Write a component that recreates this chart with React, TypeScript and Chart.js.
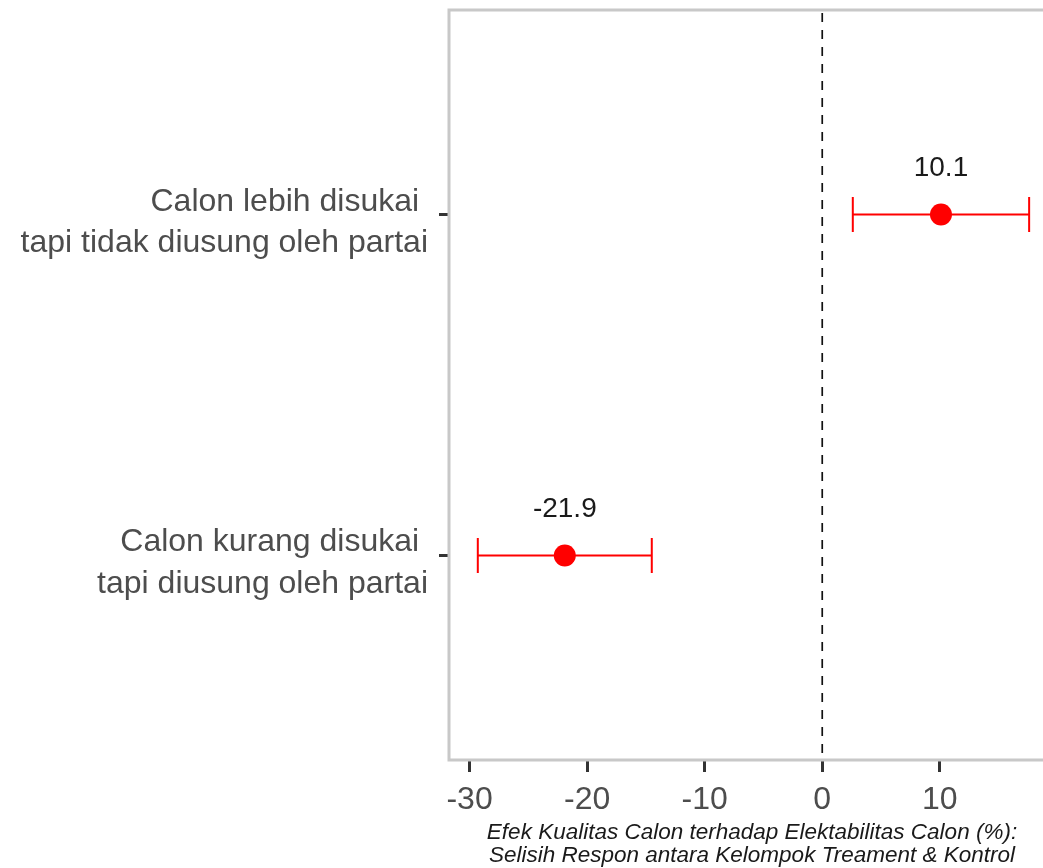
import React, { useEffect, useRef } from 'react';
import { Chart, registerables } from 'chart.js';

Chart.register(...registerables);

const categories: string[][] = [
  ['Calon lebih disukai ', 'tapi tidak diusung oleh partai'],
  ['Calon kurang disukai ', 'tapi diusung oleh partai'],
];
const categoryPositions = [2, 1];
const estimates = [10.1, -21.9];
const lowerCI = [2.6, -29.3];
const upperCI = [17.6, -14.5];
const estimateLabels = ['10.1', '-21.9'];
const xTickValues = [-30, -20, -10, 0, 10];
const xTitle = [
  'Efek Kualitas Calon terhadap Elektabilitas Calon (%):',
  'Selisih Respon antara Kelompok Treament & Kontrol',
];

const FONT = '"Liberation Sans", Arial, sans-serif';
const CANVAS_W = 1055;
const CANVAS_H = 868;

const customPlugin = {
  id: 'customDraw',
  beforeDatasetsDraw(chart: any) {
    const { ctx, chartArea: a, scales } = chart;
    const x = scales.x;
    const y = scales.y;
    ctx.save();
    const x0 = x.getPixelForValue(0);
    ctx.strokeStyle = '#111111';
    ctx.lineWidth = 1.7;
    ctx.setLineDash([9, 8]);
    ctx.beginPath();
    ctx.moveTo(x0, a.top + 3);
    ctx.lineTo(x0, a.bottom);
    ctx.stroke();
    ctx.setLineDash([]);

    ctx.strokeStyle = '#ff0000';
    ctx.lineWidth = 2;
    estimates.forEach((_, i) => {
      const py = y.getPixelForValue(categoryPositions[i]);
      const xl = x.getPixelForValue(lowerCI[i]);
      const xu = x.getPixelForValue(upperCI[i]);
      ctx.beginPath();
      ctx.moveTo(xl, py);
      ctx.lineTo(xu, py);
      ctx.moveTo(xl, py - 17.5);
      ctx.lineTo(xl, py + 17.5);
      ctx.moveTo(xu, py - 17.5);
      ctx.lineTo(xu, py + 17.5);
      ctx.stroke();
    });
    ctx.restore();
  },
  afterDatasetsDraw(chart: any) {
    const { ctx, chartArea: a, scales } = chart;
    const x = scales.x;
    const y = scales.y;
    ctx.save();
    ctx.fillStyle = '#1a1a1a';
    ctx.font = `28px ${FONT}`;
    ctx.textAlign = 'center';
    ctx.textBaseline = 'middle';
    estimates.forEach((v, i) => {
      const px = x.getPixelForValue(v);
      const py = y.getPixelForValue(categoryPositions[i]);
      ctx.fillText(estimateLabels[i], px, py - 46);
    });
    // panel border (left, top, bottom)
    ctx.strokeStyle = '#c8c8c8';
    ctx.lineWidth = 3;
    ctx.beginPath();
    ctx.moveTo(a.right + 5, a.top);
    ctx.lineTo(a.left, a.top);
    ctx.lineTo(a.left, a.bottom);
    ctx.lineTo(a.right + 5, a.bottom);
    ctx.stroke();
    ctx.restore();
  },
};

const zeroPadding = (scale: any) => {
  scale.paddingTop = 0;
  scale.paddingBottom = 0;
  scale.paddingLeft = 0;
  scale.paddingRight = 0;
};

export default function App() {
  const canvasRef = useRef<HTMLCanvasElement | null>(null);

  useEffect(() => {
    if (!canvasRef.current) return;
    const chart = new Chart(canvasRef.current, {
      type: 'scatter',
      data: {
        datasets: [
          {
            data: estimates.map((v, i) => ({ x: v, y: categoryPositions[i] })),
            backgroundColor: '#ff0000',
            borderColor: '#ff0000',
            pointRadius: 11,
            pointHoverRadius: 11,
            borderWidth: 0,
          },
        ],
      },
      options: {
        animation: false,
        responsive: false,
        devicePixelRatio: 1,
        layout: { autoPadding: false, padding: { top: 10, right: 0, left: 0, bottom: 0 } },
        plugins: {
          legend: { display: false },
          tooltip: { enabled: false },
        },
        scales: {
          x: {
            type: 'linear',
            min: -31.75,
            max: 19.8,
            border: { display: false },
            grid: {
              display: true,
              drawOnChartArea: false,
              drawTicks: true,
              tickLength: 12,
              tickWidth: 3,
              tickColor: '#333333',
            },
            ticks: {
              includeBounds: false,
              color: '#4d4d4d',
              font: { family: FONT, size: 32 },
              padding: 9,
              maxRotation: 0,
              callback: (value: any) => String(value),
            },
            afterBuildTicks: (scale: any) => {
              scale.ticks = xTickValues.map((v) => ({ value: v }));
            },
            afterFit: (scale: any) => {
              scale.height = 108;
              zeroPadding(scale);
            },
            title: {
              display: true,
              text: xTitle,
              color: '#1a1a1a',
              font: { family: FONT, size: 22.5, style: 'italic', lineHeight: '23px' },
              padding: { top: 0, bottom: 1 },
            },
          },
          y: {
            type: 'linear',
            min: 0.4,
            max: 2.6,
            border: { display: false },
            grid: {
              display: true,
              drawOnChartArea: false,
              drawTicks: true,
              tickLength: 10,
              tickWidth: 3,
              tickColor: '#333333',
            },
            ticks: {
              color: '#4d4d4d',
              font: { family: FONT, size: 32, lineHeight: 1.3 },
              padding: 11,
              labelOffset: 8,
              callback: (value: any) => {
                const idx = categoryPositions.indexOf(Number(value));
                return idx >= 0 ? categories[idx] : '';
              },
            },
            afterBuildTicks: (scale: any) => {
              scale.ticks = categoryPositions.map((v) => ({ value: v }));
            },
            afterFit: (scale: any) => {
              scale.width = 449;
              zeroPadding(scale);
            },
          },
        },
      },
      plugins: [customPlugin],
    } as any);
    return () => chart.destroy();
  }, []);

  return (
    <div
      style={{
        position: 'absolute',
        left: 0,
        top: 0,
        width: 1043,
        height: 868,
        overflow: 'hidden',
        background: '#ffffff',
      }}
    >
      <canvas
        ref={canvasRef}
        width={CANVAS_W}
        height={CANVAS_H}
        style={{ display: 'block', width: CANVAS_W, height: CANVAS_H, maxWidth: 'none' }}
      />
    </div>
  );
}
